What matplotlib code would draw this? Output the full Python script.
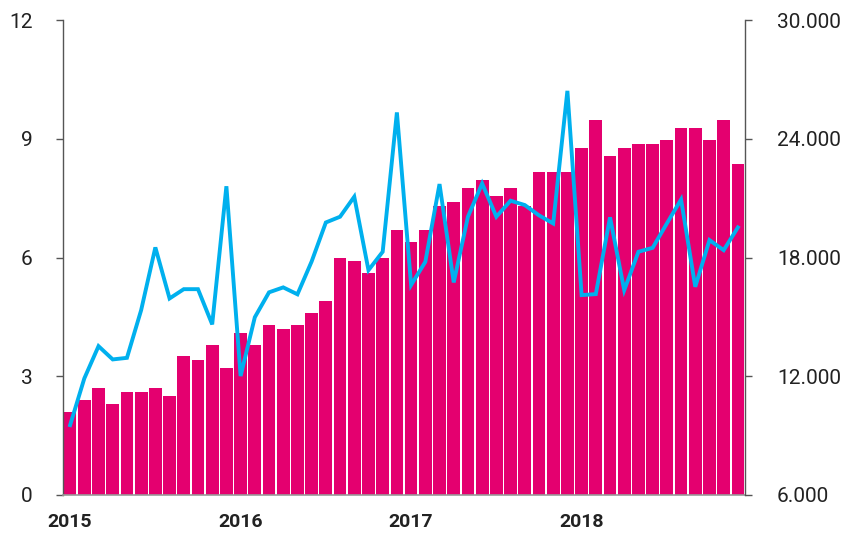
import matplotlib
matplotlib.use('Agg')
from matplotlib import pyplot as plt
import numpy as np

plt.rcParams['font.family'] = ['Roboto', 'DejaVu Sans']

# monthly values, Jan 2015 .. Dec 2018
bar_vals = [2.1, 2.4, 2.7, 2.3, 2.6, 2.6, 2.7, 2.5, 3.5, 3.4, 3.8, 3.2,
            4.1, 3.8, 4.3, 4.2, 4.3, 4.6, 4.9, 6.0, 5.9, 5.6, 6.0, 6.7,
            6.4, 6.7, 7.3, 7.4, 7.75, 7.95, 7.55, 7.75, 7.3, 8.15, 8.15, 8.15,
            8.76, 9.47, 8.56, 8.76, 8.86, 8.86, 8.96, 9.27, 9.27, 8.96, 9.47, 8.36]
line_vals = [9530, 11890, 13520, 12850, 12930, 15340, 18510, 15930, 16400, 16400, 14620, 21600,
             12010, 14980, 16240, 16490, 16140, 17800, 19770, 20060, 21070, 17360, 18290, 25330,
             16610, 17780, 21710, 16740, 20060, 21740, 20060, 20870, 20650, 20130, 19720, 26420,
             16100, 16150, 20030, 16350, 18290, 18490, 19720, 20930, 16520, 18880, 18370, 19520]
year_labels = ['2015', '2016', '2017', '2018']
left_ticks = [0, 3, 6, 9, 12]
right_ticks = [6000, 12000, 18000, 24000, 30000]

MAGENTA = '#E4006F'
BLUE = '#00B0EE'
TXT = '#222222'

fig = plt.figure(figsize=(8.44, 5.33), dpi=100)
ax = fig.add_axes([63/844, 38/533, (745-63)/844, (495-20)/533])
x = np.arange(len(bar_vals))
ax.bar(x, bar_vals, width=0.9, color=MAGENTA, zorder=2)
ax.set_xlim(-0.5, len(bar_vals) - 0.5)
ax.set_ylim(0, 12)
ax.set_yticks(left_ticks)
ax.set_yticklabels([str(t) for t in left_ticks])
ax.set_xticks([0, 12, 24, 36])
ax.set_xticklabels(year_labels, fontweight='bold', fontsize=14, color=TXT)
ax.tick_params(axis='x', length=0, pad=13)
ax.tick_params(axis='y', length=5, width=1, color='#555555', pad=17,
               labelsize=15, labelcolor=TXT)

ax2 = ax.twinx()
ax2.plot(x, line_vals, color=BLUE, lw=2.8, zorder=3, solid_joinstyle='miter')
ax2.set_ylim(6000, 30000)
ax2.set_yticks(right_ticks)
ax2.set_yticklabels([f'{t/1000:.3f}' for t in right_ticks])
ax2.tick_params(axis='y', length=5, width=1, color='#555555', pad=18,
                labelsize=15, labelcolor=TXT)

for a in (ax, ax2):
    a.spines['top'].set_visible(False)
    a.spines['left'].set_color('#555555')
    a.spines['right'].set_color('#555555')
    a.spines['bottom'].set_color('#999999')
    a.spines['left'].set_linewidth(1)
    a.spines['right'].set_linewidth(1)
    a.spines['bottom'].set_linewidth(1.2)
ax.spines['right'].set_visible(False)
ax2.spines['left'].set_visible(False)
ax2.spines['bottom'].set_visible(False)

fig.savefig('out.png', dpi=100)
